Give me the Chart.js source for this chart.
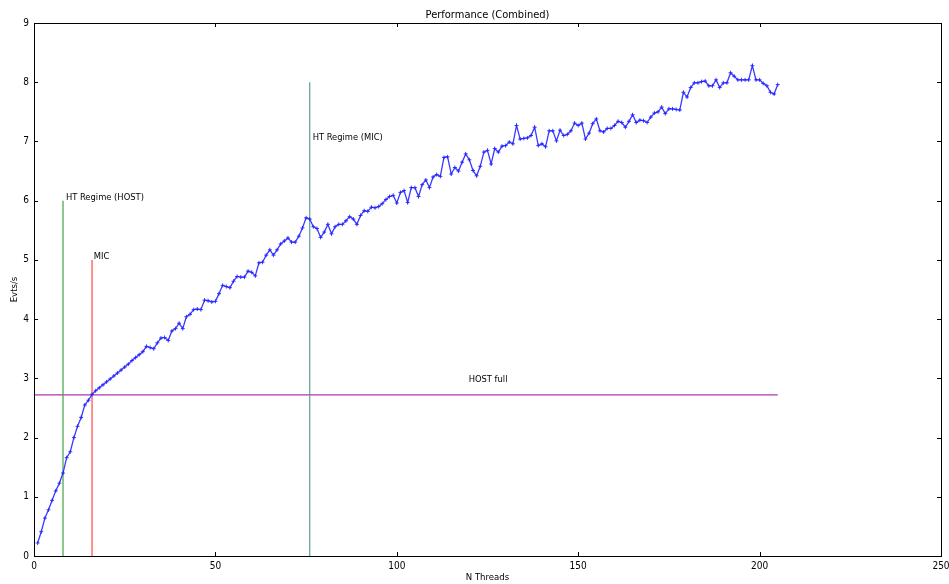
<!DOCTYPE html>
<html>
<head>
<meta charset="utf-8">
<script src="https://cdn.jsdelivr.net/npm/chart.js@4.4.1/dist/chart.umd.min.js"></script>
<style>
  html, body { margin: 0; padding: 0; background: #fff; }
  canvas { display: block; }
</style>
</head>
<body>
<canvas id="perfChart" width="949" height="584"></canvas>
<script>
const threads = [
  1, 2, 3, 4, 5, 6, 7, 8, 9, 10, 11, 12, 13, 14, 15, 16, 17, 18, 19, 20,
  21, 22, 23, 24, 25, 26, 27, 28, 29, 30, 31, 32, 33, 34, 35, 36, 37, 38, 39, 40,
  41, 42, 43, 44, 45, 46, 47, 48, 49, 50, 51, 52, 53, 54, 55, 56, 57, 58, 59, 60,
  61, 62, 63, 64, 65, 66, 67, 68, 69, 70, 71, 72, 73, 74, 75, 76, 77, 78, 79, 80,
  81, 82, 83, 84, 85, 86, 87, 88, 89, 90, 91, 92, 93, 94, 95, 96, 97, 98, 99, 100,
  101, 102, 103, 104, 105, 106, 107, 108, 109, 110, 111, 112, 113, 114, 115, 116, 117, 118, 119, 120,
  121, 122, 123, 124, 125, 126, 127, 128, 129, 130, 131, 132, 133, 134, 135, 136, 137, 138, 139, 140,
  141, 142, 143, 144, 145, 146, 147, 148, 149, 150, 151, 152, 153, 154, 155, 156, 157, 158, 159, 160,
  161, 162, 163, 164, 165, 166, 167, 168, 169, 170, 171, 172, 173, 174, 175, 176, 177, 178, 179, 180,
  181, 182, 183, 184, 185, 186, 187, 188, 189, 190, 191, 192, 193, 194, 195, 196, 197, 198, 199, 200,
  201, 202, 203, 204, 205
];

const evtsPerSec = [
  0.22, 0.41, 0.64, 0.78, 0.94, 1.10, 1.23, 1.40, 1.66, 1.76, 2.00, 2.19, 2.34, 2.55, 2.63, 2.73, 2.79, 2.84, 2.89, 2.94,
  2.99, 3.04, 3.09, 3.14, 3.19, 3.24, 3.30, 3.35, 3.40, 3.45, 3.54, 3.52, 3.50, 3.60, 3.68, 3.69, 3.64, 3.80, 3.84, 3.93,
  3.84, 4.04, 4.08, 4.16, 4.17, 4.16, 4.32, 4.31, 4.29, 4.30, 4.43, 4.57, 4.55, 4.53, 4.64, 4.72, 4.71, 4.71, 4.81, 4.79,
  4.73, 4.95, 4.96, 5.08, 5.17, 5.08, 5.17, 5.27, 5.32, 5.37, 5.30, 5.30, 5.40, 5.54, 5.71, 5.69, 5.56, 5.53, 5.38, 5.47,
  5.60, 5.44, 5.56, 5.60, 5.60, 5.66, 5.73, 5.69, 5.60, 5.75, 5.83, 5.82, 5.89, 5.88, 5.90, 5.95, 6.02, 6.07, 6.09, 5.96,
  6.14, 6.17, 5.97, 6.22, 6.22, 6.07, 6.27, 6.35, 6.22, 6.40, 6.44, 6.41, 6.73, 6.74, 6.45, 6.56, 6.50, 6.65, 6.79, 6.69,
  6.51, 6.42, 6.58, 6.82, 6.85, 6.62, 6.88, 6.82, 6.92, 6.93, 6.99, 6.96, 7.27, 7.04, 7.05, 7.06, 7.10, 7.24, 6.93, 6.96,
  6.91, 7.18, 7.18, 7.01, 7.19, 7.10, 7.12, 7.18, 7.31, 7.27, 7.31, 7.04, 7.14, 7.30, 7.38, 7.18, 7.16, 7.22, 7.22, 7.27,
  7.34, 7.32, 7.24, 7.34, 7.45, 7.32, 7.36, 7.35, 7.32, 7.41, 7.48, 7.50, 7.58, 7.47, 7.55, 7.55, 7.54, 7.53, 7.83, 7.75,
  7.91, 7.99, 7.99, 8.01, 8.02, 7.94, 7.94, 8.04, 7.91, 7.99, 7.99, 8.16, 8.10, 8.04, 8.04, 8.04, 8.04, 8.28, 8.04, 8.04,
  7.98, 7.94, 7.83, 7.80, 7.96
];

// reference lines
const markerX = [8, 16, 76];
const markerTop = [6, 5, 8];
const markerColors = ['#44a444', '#ff4848', '#5f9c9c'];
const hostFullY = 2.72;
const hostFullEnd = 205;

// text labels
const noteText = ['HT Regime (HOST)', 'MIC', 'HT Regime (MIC)', 'HOST full'];
const noteX = [8.8, 16.5, 76.8, 119.8];
const noteY = [5.98, 4.98, 6.98, 2.9];

const xTicks = [0, 50, 100, 150, 200, 250];
const yTicks = [0, 1, 2, 3, 4, 5, 6, 7, 8, 9];

const chartTitle = 'Performance (Combined)';
const FONT = "'DejaVu Sans Condensed', 'Liberation Sans Narrow', 'DejaVu Sans', sans-serif";

const datasets = [{
    label: 'Combined',
    data: threads.map((t, i) => ({ x: t, y: evtsPerSec[i] })),
    borderColor: 'rgba(35, 35, 255, 0.9)',
    borderWidth: 1.3,
    pointStyle: 'cross',
    pointRadius: 2,
    pointBorderColor: 'rgba(35, 35, 255, 0.9)',
    pointBorderWidth: 1,
    tension: 0,
    fill: false
}];

markerX.forEach((mx, i) => {
    datasets.push({
        label: 'marker' + i,
        data: [{ x: mx, y: 0 }, { x: mx, y: markerTop[i] }],
        borderColor: markerColors[i],
        borderWidth: 1.2,
        pointRadius: 0,
        fill: false
    });
});

datasets.push({
    label: 'HOST full',
    data: [{ x: 0, y: hostFullY }, { x: hostFullEnd, y: hostFullY }],
    borderColor: '#ac36ac',
    borderWidth: 1.2,
    pointRadius: 0,
    fill: false
});

const frameAndNotes = {
    id: 'frameAndNotes',
    afterDatasetsDraw(chart) {
        const { ctx, chartArea: a, scales } = chart;
        ctx.save();
        ctx.strokeStyle = '#000';
        ctx.lineWidth = 1;
        ctx.strokeRect(Math.round(a.left) + 0.5, Math.round(a.top) + 0.5,
            Math.round(a.right - a.left), Math.round(a.bottom - a.top));

        // inward ticks on all four sides
        ctx.beginPath();
        xTicks.forEach(v => {
            const px = Math.round(scales.x.getPixelForValue(v)) + 0.5;
            ctx.moveTo(px, a.bottom); ctx.lineTo(px, a.bottom - 4);
            ctx.moveTo(px, a.top); ctx.lineTo(px, a.top + 4);
        });
        yTicks.forEach(v => {
            const py = Math.round(scales.y.getPixelForValue(v)) + 0.5;
            ctx.moveTo(a.left, py); ctx.lineTo(a.left + 4, py);
            ctx.moveTo(a.right, py); ctx.lineTo(a.right - 4, py);
        });
        ctx.stroke();

        ctx.fillStyle = '#000';
        ctx.font = '9.3px ' + FONT;
        ctx.textAlign = 'left';
        ctx.textBaseline = 'bottom';
        noteText.forEach((t, i) => {
            ctx.fillText(t, scales.x.getPixelForValue(noteX[i]), scales.y.getPixelForValue(noteY[i]));
        });

        // title centred over the plot area
        ctx.font = '11px ' + FONT;
        ctx.textAlign = 'center';
        ctx.textBaseline = 'middle';
        ctx.fillText(chartTitle, (a.left + a.right) / 2, a.top - 8);
        ctx.restore();
    }
};

new Chart(document.getElementById('perfChart'), {
    type: 'line',
    data: { datasets: datasets },
    options: {
        responsive: false,
        animation: false,
        layout: { padding: { left: 0, right: 8, top: 23, bottom: 0 } },
        plugins: {
            legend: { display: false },
            tooltip: { enabled: false },
            title: { display: false }
        },
        scales: {
            x: {
                type: 'linear',
                min: 0,
                max: 250,
                afterBuildTicks: s => { s.ticks = xTicks.map(v => ({ value: v })); },
                afterFit: s => { s.height = 28; s.paddingRight = 0; s.paddingLeft = 0; },
                grid: { display: false, drawTicks: false },
                border: { display: false },
                ticks: { color: '#000', padding: 4, font: { family: FONT, size: 10 }, maxRotation: 0 },
                title: { display: true, text: 'N Threads', color: '#000', font: { family: FONT, size: 9.5 }, padding: { top: 0, bottom: 1 } }
            },
            y: {
                type: 'linear',
                min: 0,
                max: 9,
                afterBuildTicks: s => { s.ticks = yTicks.map(v => ({ value: v })); },
                afterFit: s => { s.width = 34; s.paddingTop = 0; s.paddingBottom = 0; },
                grid: { display: false, drawTicks: false },
                border: { display: false },
                ticks: { color: '#000', padding: 5, font: { family: FONT, size: 10 } },
                title: { display: true, text: 'Evts/s', color: '#000', font: { family: FONT, size: 9.5 }, padding: { top: 9, bottom: 0 } }
            }
        }
    },
    plugins: [frameAndNotes]
});
</script>
</body>
</html>
